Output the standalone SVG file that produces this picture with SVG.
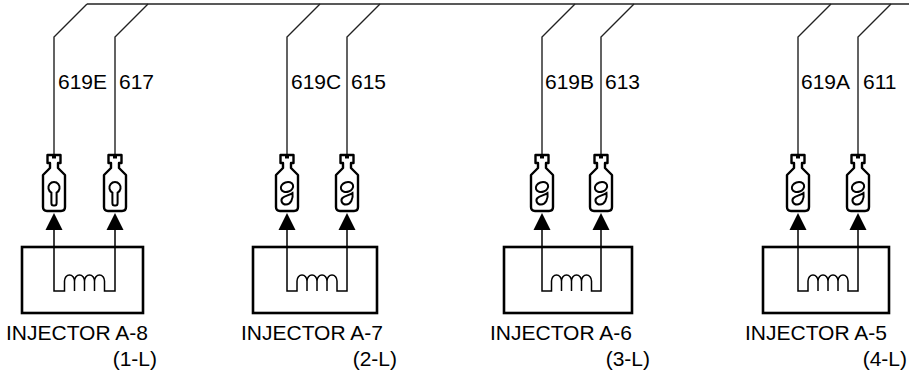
<svg xmlns="http://www.w3.org/2000/svg" width="909" height="376" viewBox="0 0 909 376">
<style>
.w{fill:none;stroke:#222;stroke-width:1.4}
.box{fill:none;stroke:#000;stroke-width:2.6}
.coil{fill:none;stroke:#000;stroke-width:1.5}
.con{fill:#fff;stroke:#000;stroke-width:2.4;stroke-linejoin:round}
.sym{fill:#fff;stroke:#000;stroke-width:2}
.arr{fill:#000}
text{font-family:"Liberation Sans",Arial,sans-serif;font-size:21px;fill:#000}
.e{text-anchor:end}
</style>
<defs>
<g id="conK">
<path class="con" d="M-6.5,0 H6.5 V8 H4 V13 L11,20 V52 Q11,56 7,56 H-7 Q-11,56 -11,52 V20 L-4,13 V8 H-6.5 Z"/>
<rect x="-2" y="0" width="4" height="3.5" fill="#000"/>
<path class="sym" d="M-2.6,37.6 A5.6,5.6 0 1 1 2.6,37.6 V48 Q2.6,50.5 0.5,50.5 H-0.5 Q-2.6,50.5 -2.6,48 Z"/>
</g>
<g id="conB">
<path class="con" d="M-6.5,0 H6.5 V8 H4 V13 L11,20 V52 Q11,56 7,56 H-7 Q-11,56 -11,52 V20 L-4,13 V8 H-6.5 Z"/>
<rect x="-2" y="0" width="4" height="3.5" fill="#000"/>
<ellipse class="sym" cx="0" cy="32" rx="6.3" ry="4.8" transform="rotate(-20 0 32)"/>
<path class="sym" d="M5.5,38 C6.5,44 3.5,49.5 -1,49.5 C-5.5,49.5 -6.5,45 -4.5,43 C-2.5,41 3,40 5.5,38 Z"/>
</g>
<path id="arrow" class="arr" d="M0,213 L8.5,230 L-8.5,230 Z"/>
</defs>

<g id="connectors">
<path class="w" d="M87,4 H909"/>
<path class="w" d="M87,4 L54,37 V155"/>
<path class="w" d="M148,4 L115,37 V155"/>
<path class="w" d="M320,4 L287,37 V155"/>
<path class="w" d="M380,4 L347,37 V155"/>
<path class="w" d="M575,4 L542,37 V155"/>
<path class="w" d="M634,4 L601,37 V155"/>
<path class="w" d="M831,4 L798,37 V155"/>
<path class="w" d="M891,4 L858,37 V155"/>
</g>

<g id="injector-a8">
<rect class="box" x="22" y="247" width="121" height="66"/>
<path class="coil" d="M54,230 V291 H64.5 V281 A5,6 0 0 1 74.5,281 V291 V281 A5,6 0 0 1 84.5,281 V291 V281 A5,6 0 0 1 94.5,281 V291 V281 A5,6 0 0 1 104.5,281 V291 H115 V230"/>
<use href="#arrow" x="54"/><use href="#arrow" x="115"/>
<use href="#conK" x="54" y="155"/><use href="#conK" x="115" y="155"/>
<text x="58" y="89">619E</text><text x="119" y="89">617</text>
<text x="6" y="340">INJECTOR A-8</text>
<text class="e" x="157" y="366">(1-L)</text>
</g>

<g id="injector-a7">
<rect class="box" x="253" y="247" width="124" height="66"/>
<path class="coil" d="M287,230 V291 H297 V281 A5,6 0 0 1 307,281 V291 V281 A5,6 0 0 1 317,281 V291 V281 A5,6 0 0 1 327,281 V291 V281 A5,6 0 0 1 337,281 V291 H347 V230"/>
<use href="#arrow" x="287"/><use href="#arrow" x="347"/>
<use href="#conB" x="287" y="155"/><use href="#conB" x="347" y="155"/>
<text x="291" y="89">619C</text><text x="351" y="89">615</text>
<text x="241" y="340">INJECTOR A-7</text>
<text class="e" x="397" y="366">(2-L)</text>
</g>

<g id="injector-a6">
<rect class="box" x="504" y="247" width="128" height="66"/>
<path class="coil" d="M542,230 V291 H551.5 V281 A5,6 0 0 1 561.5,281 V291 V281 A5,6 0 0 1 571.5,281 V291 V281 A5,6 0 0 1 581.5,281 V291 V281 A5,6 0 0 1 591.5,281 V291 H601 V230"/>
<use href="#arrow" x="542"/><use href="#arrow" x="601"/>
<use href="#conB" x="542" y="155"/><use href="#conB" x="601" y="155"/>
<text x="545" y="89">619B</text><text x="605" y="89">613</text>
<text x="490" y="340">INJECTOR A-6</text>
<text class="e" x="650" y="366">(3-L)</text>
</g>

<g id="injector-a5">
<rect class="box" x="763" y="247" width="126" height="66"/>
<path class="coil" d="M798,230 V291 H808 V281 A5,6 0 0 1 818,281 V291 V281 A5,6 0 0 1 828,281 V291 V281 A5,6 0 0 1 838,281 V291 V281 A5,6 0 0 1 848,281 V291 H858 V230"/>
<use href="#arrow" x="798"/><use href="#arrow" x="858"/>
<use href="#conB" x="798" y="155"/><use href="#conB" x="858" y="155"/>
<text x="801" y="89">619A</text><text x="863" y="89">611</text>
<text x="745" y="340">INJECTOR A-5</text>
<text class="e" x="907" y="366">(4-L)</text>
</g>
</svg>
